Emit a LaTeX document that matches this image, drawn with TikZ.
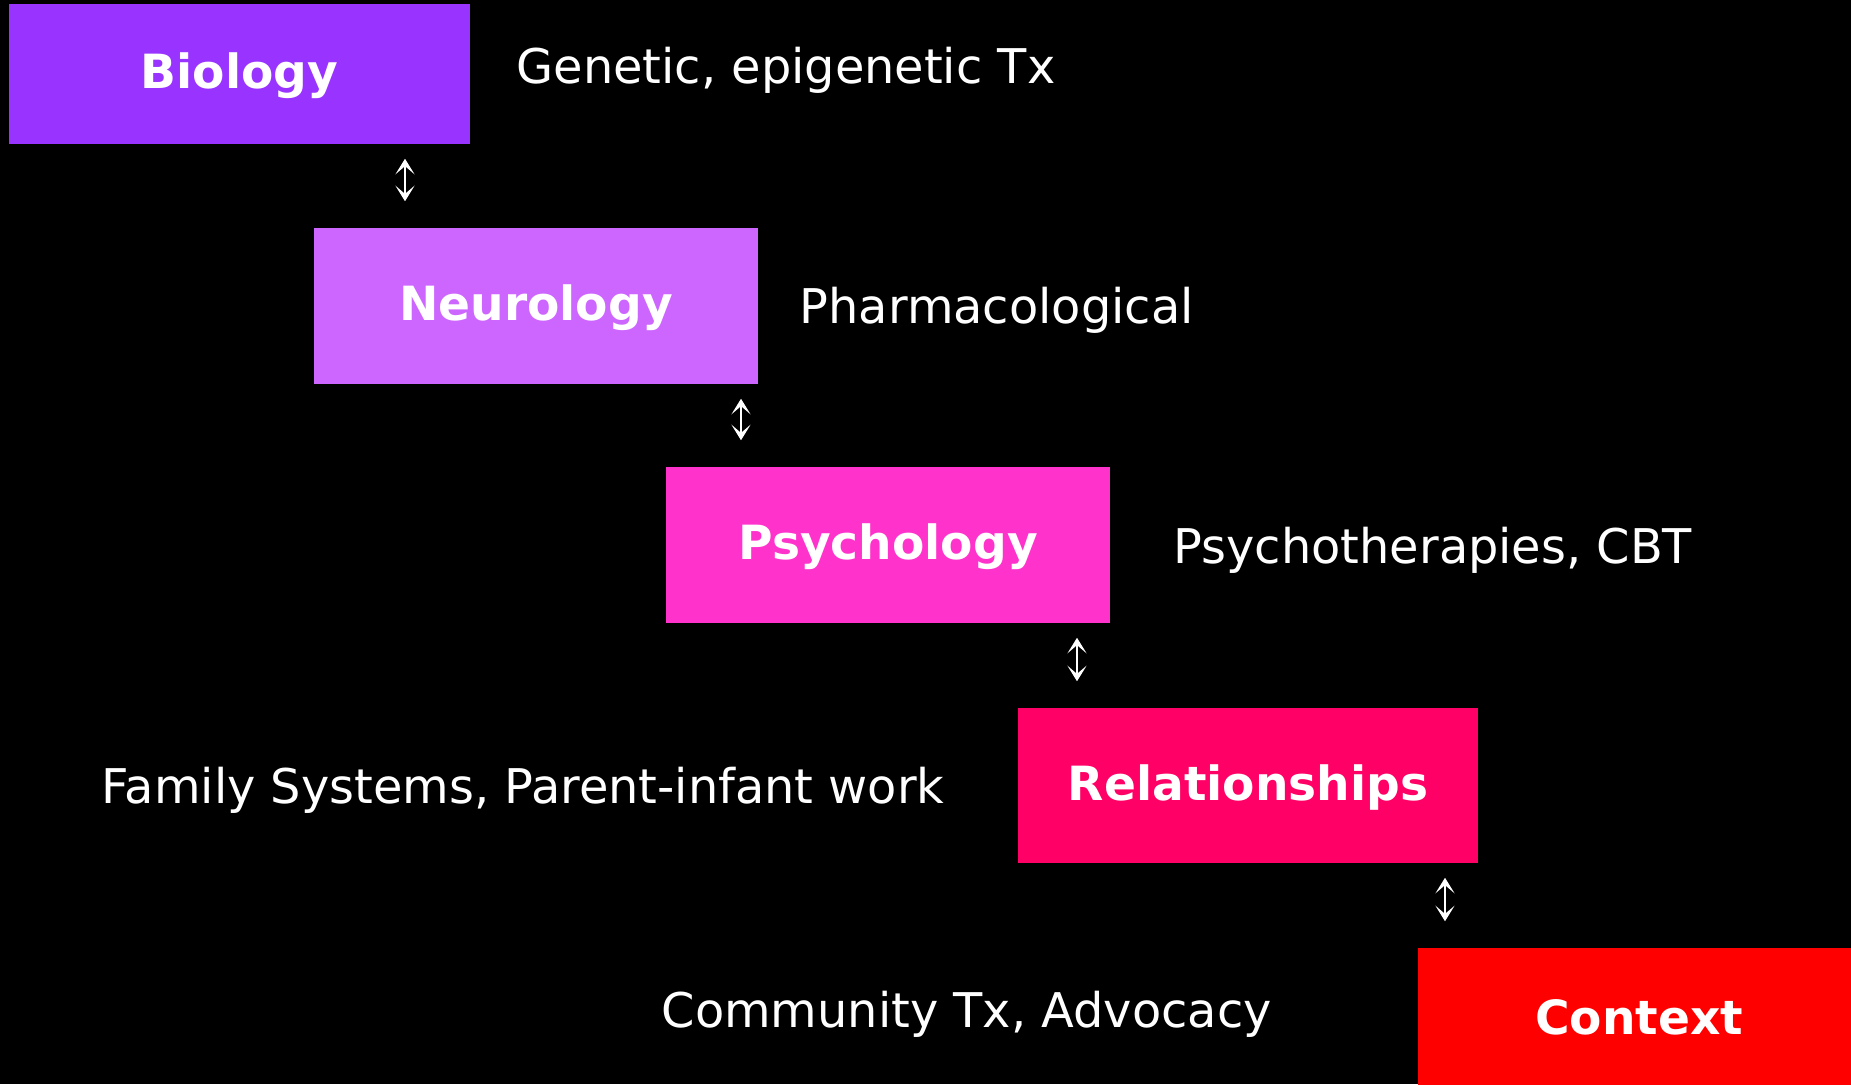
\documentclass[tikz,border=0pt]{standalone}
\usepackage{fontspec}
\setmainfont{DejaVu Sans}
\usetikzlibrary{arrows.meta}

\definecolor{biocol}{HTML}{9933FF}
\definecolor{neurocol}{HTML}{CC66FF}
\definecolor{psychcol}{HTML}{FF33CC}
\definecolor{relcol}{HTML}{FF0066}
\definecolor{ctxcol}{HTML}{FF0000}

\tikzset{
  box/.style={rectangle,inner sep=0pt,text=white,text height=0.84em,text depth=0pt,
    font=\fontsize{13.4pt}{16pt}\selectfont\bfseries},
  note/.style={inner sep=0pt,anchor=base west,text=white,font=\fontsize{13.6pt}{16pt}\selectfont},
  link/.style={draw=white,line width=0.6pt,
    {Stealth[length=4.4pt,width=5.4pt,inset=2.3pt]}-{Stealth[length=4.4pt,width=5.4pt,inset=2.3pt]},
    shorten <=0.14cm,shorten >=0.26cm}
}

\begin{document}
\begin{tikzpicture}[x=0.01cm,y=-0.01cm]
                    \clip (0,0) rectangle (1851,1084);
                    \fill[black] (0,0) rectangle (1851,1084);

                    \path
                    (239.5,74) node[box,fill=biocol,minimum width=4.61cm,minimum height=1.40cm](bio) {Biology}
                    (536,306) node[box,fill=neurocol,minimum width=4.44cm,minimum height=1.56cm](neuro) {Neurology}
                    (888,545) node[box,fill=psychcol,minimum width=4.44cm,minimum height=1.56cm](psych) {Psychology}
                    (1248,785.5) node[box,fill=relcol,minimum width=4.60cm,minimum height=1.55cm](rel) {Relationships}
                    (1639,1020) node[box,fill=ctxcol,minimum width=4.42cm,minimum height=1.44cm](ctx) {Context};

                    \path
                    (516,83) node[note](biotx) {Genetic, epigenetic Tx}
                    (799,323) node[note](neurotx) {Pharmacological}
                    (1173,563) node[note](psychtx) {Psychotherapies, CBT}
                    (101,803) node[note](reltx) {Family Systems, Parent-infant work}
                    (661,1027) node[note](ctxtx) {Community Tx, Advocacy};

                    \draw[link] (bio.south -| 405,0) -- (neuro.north -| 405,0);
                    \draw[link] (neuro.south -| 741,0) -- (psych.north -| 741,0);
                    \draw[link] (psych.south -| 1077,0) -- (rel.north -| 1077,0);
                    \draw[link] (rel.south -| 1445,0) -- (ctx.north -| 1445,0);
                \end{tikzpicture}
\end{document}
